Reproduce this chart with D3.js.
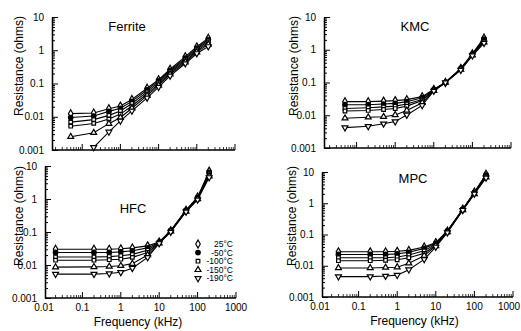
<!DOCTYPE html>
<html>
<head>
<meta charset="utf-8">
<script src="https://cdn.jsdelivr.net/npm/d3@7"></script>
<style>
  body { margin: 0; background: #fff; }
  svg { display: block; font-family: "Liberation Sans", Arial, sans-serif; }
</style>
</head>
<body>
<div id="chart"></div>
<script>
// frequencies (kHz)
var freqTop = [0.05, 0.2, 0.5, 1, 2, 5, 10, 20, 50, 100, 200];
var freqHFC = [0.02, 0.2, 0.5, 1, 2, 5, 10, 20, 50, 100, 200];
var freqMPC = [0.03, 0.2, 0.5, 1, 2, 5, 10, 20, 50, 100, 200];

var seriesLabels = ["25°C", "-50°C", "-100°C", "", "-150°C", "-190°C"];

// resistance (ohms), one row per series
var ferrite = [
  [0.0124, 0.013, 0.0175, 0.021, 0.033, 0.072, 0.13, 0.27, 0.64, 1.27, 2.3],
  [0.0095, 0.0105, 0.0145, 0.018, 0.029, 0.064, 0.12, 0.25, 0.58, 1.15, 2.1],
  [0.0069, 0.0082, 0.011, 0.015, 0.025, 0.056, 0.108, 0.23, 0.53, 1.05, 1.9],
  [0.0052, 0.0063, 0.0085, 0.012, 0.021, 0.049, 0.098, 0.21, 0.48, 0.95, 1.7],
  [0.0025, 0.0033, 0.0062, 0.0095, 0.018, 0.043, 0.088, 0.19, 0.44, 0.88, 1.5],
  [null, 0.0012, 0.0035, 0.0075, 0.015, 0.037, 0.078, 0.17, 0.4, 0.8, 1.3]
];
var kmc = [
  [0.026, 0.026, 0.027, 0.028, 0.030, 0.037, 0.062, 0.10, 0.27, 0.76, 2.3],
  [0.021, 0.021, 0.022, 0.023, 0.026, 0.034, 0.060, 0.10, 0.26, 0.74, 2.1],
  [0.016, 0.017, 0.018, 0.019, 0.022, 0.030, 0.058, 0.10, 0.26, 0.72, 1.9],
  [0.0135, 0.014, 0.015, 0.016, 0.019, 0.028, 0.057, 0.10, 0.25, 0.70, 1.8],
  [0.0081, 0.0087, 0.009, 0.0102, 0.014, 0.024, 0.056, 0.10, 0.25, 0.68, 1.7],
  [0.0042, 0.0046, 0.0055, 0.0064, 0.0102, 0.020, 0.055, 0.10, 0.24, 0.66, 1.6]
];
var hfc = [
  [0.030, 0.030, 0.030, 0.031, 0.033, 0.038, 0.050, 0.11, 0.46, 1.15, 7.0],
  [0.024, 0.024, 0.024, 0.025, 0.027, 0.033, 0.049, 0.11, 0.45, 1.1, 6.4],
  [0.0175, 0.0175, 0.018, 0.019, 0.021, 0.028, 0.048, 0.11, 0.44, 1.05, 5.8],
  [0.014, 0.014, 0.0145, 0.015, 0.017, 0.024, 0.047, 0.105, 0.43, 1.0, 5.3],
  [0.0086, 0.0088, 0.009, 0.0095, 0.011, 0.020, 0.046, 0.105, 0.42, 1.0, 4.9],
  [0.0053, 0.0053, 0.0055, 0.006, 0.0080, 0.017, 0.045, 0.10, 0.41, 0.95, 4.5]
];
var mpc = [
  [0.028, 0.028, 0.028, 0.029, 0.031, 0.040, 0.055, 0.13, 0.65, 2.3, 8.5],
  [0.023, 0.023, 0.023, 0.024, 0.027, 0.036, 0.052, 0.13, 0.64, 2.2, 8.0],
  [0.018, 0.018, 0.018, 0.019, 0.022, 0.030, 0.049, 0.125, 0.63, 2.1, 7.6],
  [0.0145, 0.0145, 0.015, 0.0155, 0.018, 0.025, 0.046, 0.12, 0.62, 2.1, 7.2],
  [0.0085, 0.0085, 0.0088, 0.009, 0.012, 0.021, 0.043, 0.12, 0.61, 2.0, 6.8],
  [0.0045, 0.0045, 0.0047, 0.005, 0.0075, 0.016, 0.040, 0.115, 0.60, 2.0, 6.5]
];

var xTickLabels = [0.01, 0.1, 1, 10, 100, 1000];
var yTickLabels = [0.001, 0.01, 0.1, 1, 10];

var panels = [
  { title: "Ferrite", freq: freqTop, data: ferrite, xr: [44, 235], yAxisX: 52, yr: [150, 17], titlePos: [127, 31], labels: false, yTitle: [19, 66] },
  { title: "KMC", freq: freqTop, data: kmc, xr: [318, 511], yAxisX: 324, yr: [148, 17], titlePos: [415, 31], labels: false, yTitle: [294, 66] },
  { title: "HFC", freq: freqHFC, data: hfc, xr: [44, 236], yAxisX: 45, yr: [298, 166], titlePos: [133, 213], labels: true, yTitle: [19, 216] },
  { title: "MPC", freq: freqMPC, data: mpc, xr: [320, 513], yAxisX: 322, yr: [297, 172], titlePos: [413, 183], labels: true, yTitle: [292, 216] }
];

var W = 521, H = 331;
var svg = d3.select("#chart").append("svg").attr("width", W).attr("height", H);

// marker shapes per series
var shapes = [
  { type: d3.symbolDiamond, fill: "#fff", rot: 0, size: 18 },
  { type: d3.symbolCircle, fill: "#000", rot: 0, size: 16 },
  { type: d3.symbolSquare, fill: "#fff", rot: 0, size: 13 },
  { type: d3.symbolSquare, fill: "#fff", rot: 0, size: 13 },
  { type: d3.symbolTriangle, fill: "#fff", rot: 0, size: 15 },
  { type: d3.symbolTriangle, fill: "#fff", rot: 180, size: 15 }
];

function minorTicks(lo, hi) {
  var t = [];
  for (var e = Math.log10(lo); e < Math.log10(hi); e++) {
    for (var k = 2; k <= 9; k++) t.push(k * Math.pow(10, e));
  }
  return t;
}

panels.forEach(function(p) {
  var x = d3.scaleLog().domain([0.01, 1000]).range(p.xr);
  var y = d3.scaleLog().domain([0.001, 10]).range(p.yr);
  var g = svg.append("g");
  var yBase = p.yr[0];

  // x axis (ticks pointing up), starts at the y-axis line
  var xMajor = xTickLabels.filter(function(v) { return x(v) >= p.yAxisX - 0.5; });
  var xMinor = minorTicks(0.01, 1000).filter(function(v) { return x(v) > p.yAxisX + 1; });
  g.append("line")
    .attr("x1", p.yAxisX).attr("x2", p.xr[1])
    .attr("y1", yBase).attr("y2", yBase)
    .attr("stroke", "#000").attr("stroke-width", 1.3);
  g.selectAll(".xmin").data(xMinor).enter().append("line")
    .attr("x1", function(d) { return x(d); }).attr("x2", function(d) { return x(d); })
    .attr("y1", yBase).attr("y2", yBase - 3)
    .attr("stroke", "#000").attr("stroke-width", 0.8);
  g.selectAll(".xmaj").data(xMajor).enter().append("line")
    .attr("x1", function(d) { return x(d); }).attr("x2", function(d) { return x(d); })
    .attr("y1", yBase).attr("y2", yBase - 6)
    .attr("stroke", "#000").attr("stroke-width", 1);
  if (p.labels) {
    g.selectAll(".xlab").data(xTickLabels).enter().append("text")
      .attr("x", function(d) { return Math.min(x(d), W - 12); })
      .attr("y", yBase + 13)
      .attr("text-anchor", "middle")
      .style("font-size", "10px")
      .text(function(d) { return String(d); });
    g.append("text")
      .attr("x", (p.xr[0] + p.xr[1]) / 2 - 2)
      .attr("y", yBase + 28)
      .attr("text-anchor", "middle")
      .style("font-size", "12px")
      .text("Frequency (kHz)");
  }

  // y axis (ticks pointing right)
  var yAx = g.append("g").attr("transform", "translate(" + p.yAxisX + ",0)");
  yAx.call(d3.axisLeft(y).tickValues(yTickLabels).tickSizeInner(-6).tickSizeOuter(0)
      .tickPadding(8).tickFormat(function(d) { return String(d); }));
  yAx.append("g").call(d3.axisLeft(y).tickValues(minorTicks(0.001, 10)).tickSizeInner(-3)
      .tickSizeOuter(0).tickFormat(""));
  yAx.selectAll(".domain").attr("stroke-width", 1.3);
  yAx.selectAll("text").style("font-size", "10px").attr("fill", "#000");

  g.append("text")
    .attr("transform", "translate(" + p.yTitle[0] + "," + p.yTitle[1] + ") rotate(-90)")
    .attr("text-anchor", "middle")
    .attr("dy", "0.35em")
    .style("font-size", "12px")
    .text("Resistance (ohms)");

  g.append("text")
    .attr("x", p.titlePos[0]).attr("y", p.titlePos[1])
    .attr("text-anchor", "middle")
    .style("font-size", "13px")
    .text(p.title);

  // series
  var line = d3.line()
    .defined(function(d) { return d[1] != null; })
    .x(function(d) { return x(d[0]); })
    .y(function(d) { return y(d[1]); });

  p.data.forEach(function(vals, si) {
    var pts = p.freq.map(function(f, i) { return [f, vals[i]]; });
    g.append("path").datum(pts)
      .attr("d", line)
      .attr("fill", "none").attr("stroke", "#000").attr("stroke-width", 1.1);
    var sh = shapes[si];
    g.selectAll(".m" + si).data(pts.filter(function(d) { return d[1] != null; })).enter()
      .append("path")
      .attr("d", d3.symbol().type(sh.type).size(sh.size))
      .attr("transform", function(d) { return "translate(" + x(d[0]) + "," + y(d[1]) + ") rotate(" + sh.rot + ")"; })
      .attr("fill", sh.fill).attr("stroke", "#000").attr("stroke-width", 1.2);
  });

  // legend only in HFC panel
  if (p.title === "HFC") {
    var legendItems = seriesLabels.map(function(l, i) { return { label: l, i: i }; })
      .filter(function(d) { return d.label !== ""; });
    legendItems.forEach(function(d, k) {
      var ly = 244 + k * 8.6;
      var sh = shapes[d.i];
      g.append("path")
        .attr("d", d3.symbol().type(sh.type).size(sh.size))
        .attr("transform", "translate(198," + ly + ") rotate(" + sh.rot + ")")
        .attr("fill", sh.fill).attr("stroke", "#000").attr("stroke-width", 1.2);
      g.append("text")
        .attr("x", 233).attr("y", ly).attr("dy", "0.35em")
        .attr("text-anchor", "end")
        .style("font-size", "8.5px")
        .text(d.label);
    });
  }
});
</script>
</body>
</html>
